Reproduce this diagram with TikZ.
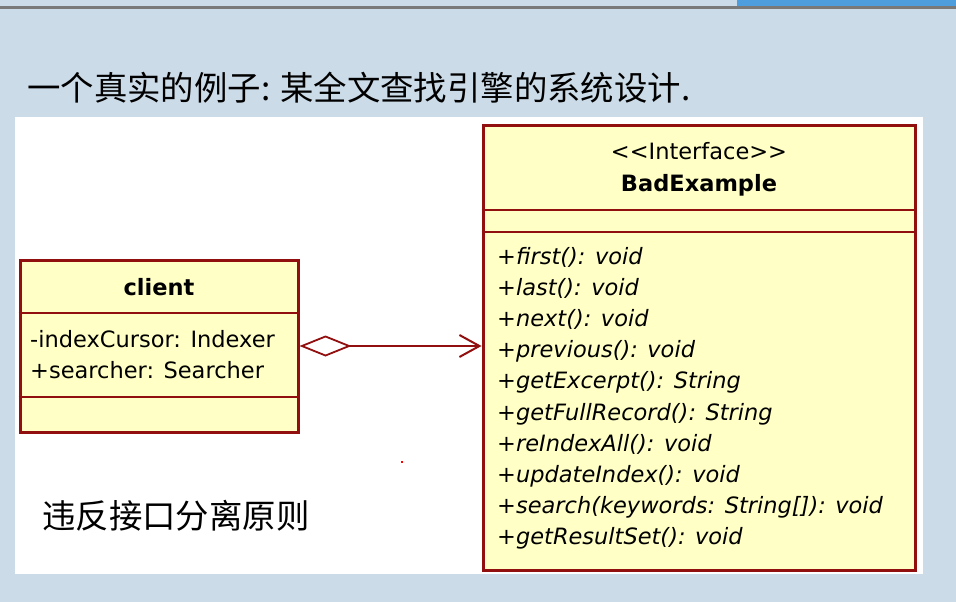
\documentclass[tikz,border=0pt]{standalone}
\usepackage{fontspec}
\newfontfamily\umlfont{DejaVu Sans}
\newfontfamily\cjk{Noto Sans CJK SC}
\usetikzlibrary{arrows.meta, positioning}
\definecolor{slide}{RGB}{204,219,232}
\definecolor{topblue}{RGB}{78,158,222}
\definecolor{umlred}{RGB}{145,15,15}
\definecolor{umlfill}{RGB}{255,255,198}

\begin{document}
\begin{tikzpicture}[x=1pt, y=-1pt,
    classbox/.style={rectangle, draw=umlred, fill=umlfill, line width=3pt, inner sep=0pt},
    classline/.style={draw=umlred, line width=2.8pt},
    member/.style={anchor=base west, inner sep=0pt, font=\umlfont\fontsize{22.5}{27}\selectfont},
    heading/.style={anchor=base, inner sep=0pt, font=\umlfont\bfseries\fontsize{22.5}{27}\selectfont},
    cjktext/.style={anchor=base west, inner sep=0pt, font=\cjk\fontsize{33.4}{40}\selectfont}]
      % slide background
      \fill[slide] (0,0) rectangle (956,602);
      \useasboundingbox (0,0) rectangle (956,602);
      \fill[gray!95!black] (0,6) rectangle (956,9.5);
      \fill[topblue] (737,0) rectangle (956,6);
      \fill[white] (15,117) rectangle (923,574);

      \node[cjktext] (title) at (27,100) {一个真实的例子: 某全文查找引擎的系统设计.};

      % client class
      \node[classbox, minimum width=278pt, minimum height=172pt] (client) at (159,346) {};
      \draw[classline] (client.west |- 0,313) -- (client.east |- 0,313);
      \draw[classline] (client.west |- 0,397) -- (client.east |- 0,397);
      \node[heading] (cname) at (159,295) {client};
      \node[member] (a1) at (30,347) {-indexCursor: Indexer};
      \node[member] (a2) at (30,378) {+searcher: Searcher};

      % interface
      \node[classbox, minimum width=432pt, minimum height=445pt] (bad) at (699,347.5) {};
      \draw[classline] (bad.west |- 0,210) -- (bad.east |- 0,210);
      \draw[classline] (bad.west |- 0,232) -- (bad.east |- 0,232);
      \node[heading, font=\umlfont\fontsize{22.5}{27}\selectfont] (stereo) at (699,159) {<<Interface>>};
      \node[heading] (bname) at (699,191) {BadExample};
      \foreach \m [count=\i] in {{+first(): void}, {+last(): void}, {+next(): void},
          {+previous(): void}, {+getExcerpt(): String}, {+getFullRecord(): String},
          {+reIndexAll(): void}, {+updateIndex(): void},
          {+search(keywords: String[]): void}, {+getResultSet(): void}}
        \node[member, font=\umlfont\itshape\fontsize{22.5}{27}\selectfont] (m\i) at (497,{264+31.2*(\i-1)}) {\m};

      % aggregation
      \draw[umlred, line width=2.2pt, {Diamond[open, length=52pt, width=21pt, line width=1.8pt]}-{Straight Barb[length=20pt, width=22pt, line width=2pt]}]
        (client.east) -- (client.east -| bad.west);

      \fill[red] (401,461) rectangle (403,463);

      \node[cjktext] (rule) at (42,528) {违反接口分离原则};
    \end{tikzpicture}
\end{document}
